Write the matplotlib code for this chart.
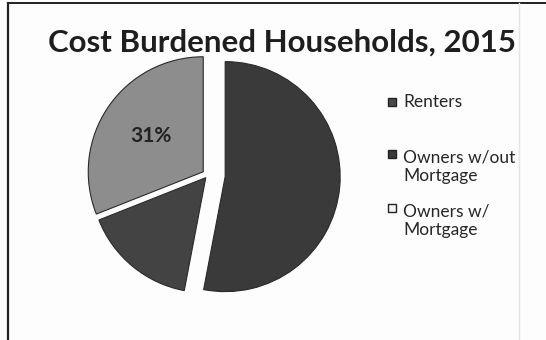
import matplotlib
matplotlib.use("Agg")
from matplotlib import pyplot as plt
from matplotlib.patches import Rectangle
from matplotlib.lines import Line2D

# Cost burdened households, 2015 (share of total, %)
labels = ['Renters', 'Owners w/out\nMortgage', 'Owners w/\nMortgage']
shares = [53, 16, 31]
slice_colors = ['#3a3a3a', '#434343', '#8d8d8d']
legend_colors = ['#4a4a4a', '#3a3a3a', '#f4f4f4']
explode = [0.15, 0.03, 0.05]

W, H = 546, 340
plt.rcParams['font.family'] = ['Lato', 'DejaVu Sans']

fig = plt.figure(figsize=(W / 100, H / 100), dpi=100)
fig.patch.set_facecolor('#fdfdfd')


def px(x, y):
    # pixel coords (top-left origin) -> figure fraction
    return x / W, 1 - y / H


# pie axes: centre (208, 175), radius 115 px
cx, cy, r = 208, 175, 115
half = 1.25 * r
ax = fig.add_axes([(cx - half) / W, (H - cy - half) / H, 2 * half / W, 2 * half / H])
wedges, texts, autotexts = ax.pie(
    shares, colors=slice_colors, explode=explode, startangle=90,
    counterclock=False,
    autopct=lambda p: '%.0f%%' % p if abs(p - 31) < 0.6 else '',
    pctdistance=0.55,
    wedgeprops=dict(edgecolor='#2a2a2a', linewidth=0.8),
    textprops=dict(fontsize=15, fontweight='bold', color='#222222'))
ax.set_xlim(-1.25, 1.25)
ax.set_ylim(-1.25, 1.25)
ax.set_aspect('equal')
ax.axis('off')

# title
fig.text(*px(282, 52), 'Cost Burdened Households, 2015', ha='center',
         va='baseline', fontsize=22.5, fontweight='bold', color='#1e1e1e')

# legend, drawn by hand to keep the uneven spacing of the original
legend_y = [102, 167, 221]
for lab, col, y in zip(labels, legend_colors, legend_y):
    n = lab.count('\n') + 1
    first = y - (n - 1) * 13
    fig.add_artist(Rectangle(px(388, first + 4), 8 / W, 8 / H,
                             transform=fig.transFigure, facecolor=col,
                             edgecolor='#222222', linewidth=1))
    fig.text(*px(403, y), lab, ha='left', va='center', fontsize=12.5,
             color='#262626', linespacing=1.2)

# chart frame
fig.add_artist(Line2D([8 / W, 8 / W], [0, 1 - 3 / H], transform=fig.transFigure,
                      color='#222222', linewidth=1.6))
fig.add_artist(Line2D([8 / W, 1], [1 - 3 / H, 1 - 3 / H], transform=fig.transFigure,
                      color='#222222', linewidth=1.4))
fig.add_artist(Line2D([519 / W, 519 / W], [0, 1 - 3 / H], transform=fig.transFigure,
                      color='#e4e4e4', linewidth=1))

fig.savefig('out.png', dpi=100, facecolor=fig.get_facecolor())
